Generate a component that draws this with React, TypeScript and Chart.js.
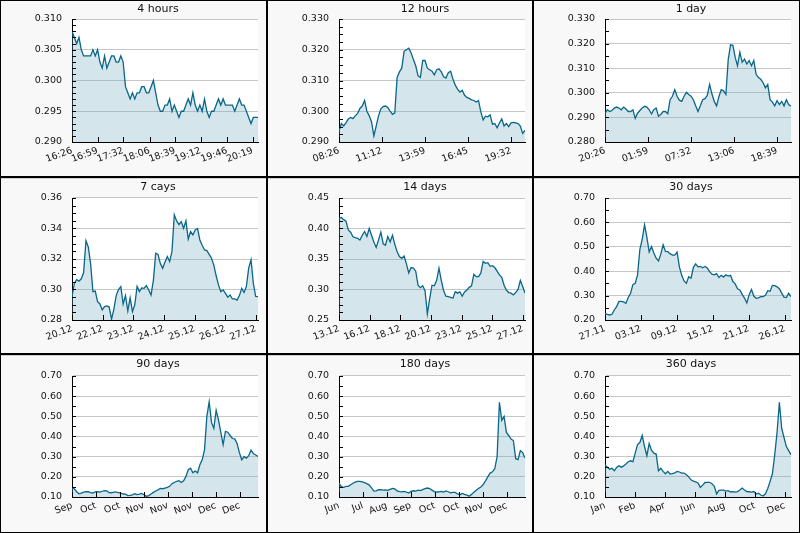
import React, { useEffect, useRef } from "react";
import { Chart, registerables } from "chart.js";
Chart.register(...registerables);

const FONT = "'DejaVu Sans', Verdana, sans-serif";
const LINE = "#0a6788";
const FILL = "rgba(115,168,192,0.3)";

// ---------- 4 hours ----------
const h4Labels = ["16:26", "16:59", "17:32", "18:06", "18:39", "19:12", "19:46", "20:19"];
const h4Ticks = [0, 33, 66, 100, 133, 166, 200, 233];
const h4Values = [
  0.308, 0.307, 0.306, 0.307, 0.305, 0.304, 0.304, 0.304, 0.304, 0.305,
  0.304, 0.305, 0.303, 0.302, 0.304, 0.302, 0.303, 0.304, 0.304, 0.303,
  0.303, 0.304, 0.303, 0.299, 0.298, 0.297, 0.298, 0.297, 0.298, 0.298,
  0.299, 0.299, 0.298, 0.298, 0.299, 0.300, 0.298, 0.296, 0.295, 0.295,
  0.296, 0.296, 0.297, 0.295, 0.296, 0.295, 0.294, 0.295, 0.295, 0.296,
  0.297, 0.296, 0.298, 0.296, 0.295, 0.296, 0.295, 0.297, 0.295, 0.294,
  0.295, 0.295, 0.296, 0.297, 0.296, 0.297, 0.296, 0.296, 0.296, 0.296,
  0.295, 0.296, 0.297, 0.296, 0.296, 0.295, 0.294, 0.293, 0.294, 0.294,
  0.294,
];

// ---------- 12 hours ----------
const h12Labels = ["08:26", "11:12", "13:59", "16:45", "19:32"];
const h12Ticks = [0, 166, 333, 499, 666];
const h12Values = [
  0.2935, 0.2960, 0.2952, 0.2962, 0.2975, 0.2980, 0.2976, 0.2985, 0.2993, 0.3009,
  0.3017, 0.3035, 0.3000, 0.2985, 0.2965, 0.2920, 0.2952, 0.2985, 0.3008, 0.3015,
  0.3017, 0.3012, 0.3000, 0.2990, 0.2995, 0.3110, 0.3128, 0.3140, 0.3195, 0.3200,
  0.3205, 0.3190, 0.3168, 0.3148, 0.3115, 0.3110, 0.3165, 0.3165, 0.3140, 0.3135,
  0.3130, 0.3118, 0.3135, 0.3138, 0.3128, 0.3112, 0.3108, 0.3125, 0.3130, 0.3105,
  0.3085, 0.3072, 0.3062, 0.3068, 0.3052, 0.3045, 0.3042, 0.3037, 0.3035, 0.3030,
  0.3035, 0.2998, 0.2972, 0.2984, 0.2982, 0.2988, 0.2958, 0.2960, 0.2946, 0.2962,
  0.2975, 0.2952, 0.2960, 0.2950, 0.2962, 0.2964, 0.2962, 0.2960, 0.2952, 0.2928,
  0.2938,
];

// ---------- 1 day ----------
const d1Labels = ["20:26", "01:59", "07:32", "13:06", "18:39"];
const d1Ticks = [0, 333, 666, 1000, 1333];
const d1Values = [
  0.2915, 0.2931, 0.2924, 0.2928, 0.2938, 0.2942, 0.2938, 0.2931, 0.2942, 0.2934,
  0.2924, 0.2924, 0.2931, 0.2896, 0.2917, 0.2928, 0.2938, 0.2945, 0.2942, 0.2931,
  0.2914, 0.2931, 0.2938, 0.2905, 0.2912, 0.2924, 0.2924, 0.2915, 0.2972, 0.2986,
  0.3013, 0.2986, 0.2970, 0.2965, 0.2986, 0.3002, 0.2993, 0.2986, 0.2972, 0.2947,
  0.2924, 0.2947, 0.2972, 0.2976, 0.2990, 0.3034, 0.2995, 0.2965, 0.2947, 0.2985,
  0.3013, 0.3008, 0.2993, 0.3135, 0.3195, 0.3193, 0.3144, 0.3110, 0.3165, 0.3124,
  0.3137, 0.3117, 0.3131, 0.3110, 0.3131, 0.3075, 0.3062, 0.3055, 0.3041, 0.3020,
  0.3034, 0.2972, 0.2962, 0.2947, 0.2968, 0.2952, 0.2965, 0.2947, 0.2972, 0.2952,
  0.2945,
];

// ---------- 7 days ----------
const d7Labels = ["20.12", "22.12", "23.12", "24.12", "25.12", "26.12", "27.12"];
const d7Ticks = [0, 28, 56, 84, 112, 140, 168];
const d7Values = [
  0.2953, 0.3040, 0.3065, 0.3055, 0.3070, 0.3111, 0.3320, 0.3280, 0.3170, 0.2986,
  0.2990, 0.2920, 0.2905, 0.2866, 0.2888, 0.2892, 0.2885, 0.2805, 0.2870, 0.2960,
  0.3000, 0.3019, 0.2905, 0.2960, 0.2860, 0.2945, 0.2855, 0.2900, 0.3020, 0.2986,
  0.3010, 0.3008, 0.3025, 0.2997, 0.2964, 0.3060, 0.3238, 0.3230, 0.3170, 0.3139,
  0.3180, 0.3216, 0.3183, 0.3250, 0.3490, 0.3450, 0.3425, 0.3445, 0.3400, 0.3450,
  0.3330, 0.3380, 0.3358, 0.3391, 0.3400, 0.3325, 0.3290, 0.3259, 0.3255, 0.3230,
  0.3205, 0.3160, 0.3090, 0.3030, 0.2986, 0.2997, 0.2975, 0.2950, 0.2964, 0.2938,
  0.2938, 0.2930, 0.2960, 0.3008, 0.2980, 0.3020, 0.3140, 0.3195, 0.3040, 0.2955,
  0.2953,
];

// ---------- 14 days ----------
const d14Labels = ["13.12", "16.12", "18.12", "20.12", "23.12", "25.12", "27.12"];
const d14Ticks = [0, 56, 112, 168, 224, 280, 336];
const d14Values = [
  0.4170, 0.4180, 0.4145, 0.4120, 0.3975, 0.3940, 0.3865, 0.3850, 0.3840, 0.3810,
  0.3890, 0.3950, 0.3870, 0.4000, 0.3890, 0.3780, 0.3690, 0.3810, 0.3940, 0.3750,
  0.3725, 0.3870, 0.3780, 0.3890, 0.3740, 0.3620, 0.3540, 0.3510, 0.3550, 0.3420,
  0.3270, 0.3360, 0.3350, 0.3300, 0.3070, 0.3030, 0.3060, 0.2980, 0.2600, 0.2850,
  0.3070, 0.3060, 0.3150, 0.3350, 0.3150, 0.2980, 0.2890, 0.2883, 0.2870, 0.2856,
  0.2965, 0.2940, 0.2960, 0.2890, 0.2960, 0.2990, 0.3035, 0.3060, 0.3250, 0.3210,
  0.3210, 0.3267, 0.3460, 0.3430, 0.3440, 0.3380, 0.3390, 0.3360, 0.3300, 0.3240,
  0.3200, 0.3070, 0.2990, 0.2950, 0.2940, 0.2910, 0.2950, 0.3000, 0.3150, 0.3050,
  0.2940,
];

// ---------- 30 days ----------
const d30Labels = ["27.11", "03.12", "09.12", "15.12", "21.12", "26.12"];
const d30Ticks = [0, 5.8, 11.6, 17.4, 23.2, 29.0];
const d30Values = [
  0.2274, 0.2233, 0.2205, 0.2233, 0.2410, 0.2548, 0.2760, 0.2760, 0.2740, 0.2680,
  0.2920, 0.3096, 0.3450, 0.3507, 0.3849, 0.4900, 0.5300, 0.5900, 0.5400, 0.4790,
  0.5014, 0.4750, 0.4530, 0.4420, 0.4700, 0.5082, 0.4810, 0.4800, 0.4720, 0.4660,
  0.4660, 0.4781, 0.4180, 0.3830, 0.3600, 0.3500, 0.3770, 0.3712, 0.4150, 0.4300,
  0.4180, 0.4200, 0.4140, 0.4192, 0.4130, 0.3980, 0.3880, 0.3849, 0.3900, 0.3740,
  0.3830, 0.3760, 0.3849, 0.3800, 0.3830, 0.3575, 0.3480, 0.3280, 0.3233, 0.3050,
  0.2900, 0.2700, 0.3040, 0.3250, 0.2980, 0.2890, 0.2910, 0.2959, 0.2959, 0.3010,
  0.3200, 0.3180, 0.3420, 0.3411, 0.3360, 0.3280, 0.3100, 0.2940, 0.2918, 0.3096,
  0.2959,
];

// ---------- 90 days ----------
const d90Labels = ["Sep", "Oct", "Oct", "Nov", "Nov", "Nov", "Dec", "Dec"];
const d90Ticks = [0, 11.6, 23.2, 34.8, 46.4, 58.0, 69.6, 81.2];
const d90Values = [
  0.1445, 0.1410, 0.1260, 0.1160, 0.1190, 0.1240, 0.1270, 0.1260, 0.1220, 0.1198,
  0.1250, 0.1270, 0.1240, 0.1285, 0.1320, 0.1300, 0.1215, 0.1210, 0.1240, 0.1240,
  0.1220, 0.1190, 0.1148, 0.1140, 0.1066, 0.1082, 0.1110, 0.1160, 0.1120, 0.1140,
  0.1180, 0.1115, 0.1030, 0.1070, 0.1150, 0.1230, 0.1300, 0.1355, 0.1430, 0.1410,
  0.1445, 0.1478, 0.1530, 0.1660, 0.1720, 0.1780, 0.1810, 0.1720, 0.1800, 0.2021,
  0.2351, 0.2433, 0.2200, 0.2290, 0.2200, 0.2598, 0.2850, 0.3339, 0.5000, 0.5720,
  0.4700, 0.4400, 0.5300, 0.4822, 0.4200, 0.3600, 0.4250, 0.4213, 0.4050, 0.3900,
  0.3880, 0.3650, 0.3200, 0.2845, 0.3000, 0.2928, 0.3050, 0.3320, 0.3150, 0.3080,
  0.3010,
];

// ---------- 180 days ----------
const d180Labels = ["Jun", "Jul", "Aug", "Sep", "Oct", "Oct", "Nov", "Dec"];
const d180Ticks = [0, 23.2, 46.4, 69.6, 92.8, 116.0, 139.2, 162.4];
const d180Values = [
  0.1692, 0.1510, 0.1478, 0.1527, 0.1527, 0.1610, 0.1680, 0.1735, 0.1770, 0.1774,
  0.1755, 0.1710, 0.1665, 0.1590, 0.1450, 0.1290, 0.1300, 0.1360, 0.1362, 0.1340,
  0.1350, 0.1330, 0.1380, 0.1430, 0.1400, 0.1300, 0.1270, 0.1250, 0.1275, 0.1247,
  0.1198, 0.1280, 0.1310, 0.1290, 0.1340, 0.1320, 0.1370, 0.1420, 0.1445, 0.1420,
  0.1340, 0.1265, 0.1247, 0.1250, 0.1275, 0.1247, 0.1300, 0.1260, 0.1205, 0.1225,
  0.1230, 0.1150, 0.1115, 0.1180, 0.1130, 0.1090, 0.1040, 0.1130, 0.1230, 0.1330,
  0.1420, 0.1490, 0.1620, 0.1800, 0.2000, 0.2186, 0.2250, 0.2400, 0.3000, 0.5700,
  0.4800, 0.5000, 0.4200, 0.4050, 0.3870, 0.3800, 0.2900, 0.2850, 0.3300, 0.3200,
  0.2928,
];

// ---------- 360 days ----------
const d360Labels = ["Jan", "Feb", "Apr", "Jun", "Aug", "Oct", "Dec"];
const d360Ticks = [0, 58, 116, 174, 232, 290, 348];
const d360Values = [
  0.2598, 0.2470, 0.2380, 0.2420, 0.2300, 0.2466, 0.2550, 0.2480, 0.2540, 0.2640,
  0.2750, 0.2796, 0.2750, 0.3175, 0.3600, 0.3700, 0.4050, 0.3504, 0.3050, 0.3650,
  0.3320, 0.3175, 0.3130, 0.2300, 0.2420, 0.2269, 0.2150, 0.2269, 0.2140, 0.2160,
  0.2190, 0.2269, 0.2240, 0.2186, 0.2186, 0.2104, 0.2000, 0.1850, 0.1790, 0.1750,
  0.1700, 0.1478, 0.1590, 0.1720, 0.1730, 0.1730, 0.1660, 0.1527, 0.1150, 0.1330,
  0.1340, 0.1340, 0.1290, 0.1313, 0.1250, 0.1270, 0.1247, 0.1270, 0.1350, 0.1445,
  0.1350, 0.1270, 0.1260, 0.1240, 0.1270, 0.1148, 0.1190, 0.1100, 0.1050, 0.1160,
  0.1420, 0.1774, 0.2150, 0.3092, 0.4200, 0.5700, 0.4400, 0.3950, 0.3500, 0.3300,
  0.3092,
];

type Spec = {
  title: string;
  values: number[];
  xMax: number;
  xTicks: number[];
  xLabels: string[];
  yMin: number;
  yMax: number;
  yStep: number;
  yMinor: number;
  dec: number;
};

const specs: Spec[] = [
  { title: "4 hours", values: h4Values, xMax: 240, xTicks: h4Ticks, xLabels: h4Labels, yMin: 0.29, yMax: 0.31, yStep: 0.005, yMinor: 0.001, dec: 3 },
  { title: "12 hours", values: h12Values, xMax: 720, xTicks: h12Ticks, xLabels: h12Labels, yMin: 0.29, yMax: 0.33, yStep: 0.01, yMinor: 0.0025, dec: 3 },
  { title: "1 day", values: d1Values, xMax: 1440, xTicks: d1Ticks, xLabels: d1Labels, yMin: 0.28, yMax: 0.33, yStep: 0.01, yMinor: 0.005, dec: 3 },
  { title: "7 cays", values: d7Values, xMax: 170, xTicks: d7Ticks, xLabels: d7Labels, yMin: 0.28, yMax: 0.36, yStep: 0.02, yMinor: 0.005, dec: 2 },
  { title: "14 days", values: d14Values, xMax: 340, xTicks: d14Ticks, xLabels: d14Labels, yMin: 0.25, yMax: 0.45, yStep: 0.05, yMinor: 0.0125, dec: 2 },
  { title: "30 days", values: d30Values, xMax: 30, xTicks: d30Ticks, xLabels: d30Labels, yMin: 0.2, yMax: 0.7, yStep: 0.1, yMinor: 0.05, dec: 2 },
  { title: "90 days", values: d90Values, xMax: 90, xTicks: d90Ticks, xLabels: d90Labels, yMin: 0.1, yMax: 0.7, yStep: 0.1, yMinor: 0.05, dec: 2 },
  { title: "180 days", values: d180Values, xMax: 180, xTicks: d180Ticks, xLabels: d180Labels, yMin: 0.1, yMax: 0.7, yStep: 0.1, yMinor: 0.05, dec: 2 },
  { title: "360 days", values: d360Values, xMax: 360, xTicks: d360Ticks, xLabels: d360Labels, yMin: 0.1, yMax: 0.7, yStep: 0.1, yMinor: 0.05, dec: 2 },
];

const CW = 266;
const CH = 176;
const PLOT_BOTTOM = 142;
const AXIS_X = 72;
const PLOT_RIGHT = 258;

function Panel({ spec, left, top, padTop }: { spec: Spec; left: number; top: number; padTop: number }) {
  const ref = useRef<HTMLCanvasElement>(null);
  useEffect(() => {
    const canvas = ref.current;
    if (!canvas) return;
    const n = spec.values.length;
    const points = spec.values.map((v, i) => ({ x: (i * spec.xMax) / (n - 1), y: v }));
    const majorCount = Math.round((spec.yMax - spec.yMin) / spec.yStep);
    const minorCount = Math.round((spec.yMax - spec.yMin) / spec.yMinor);

    const decor = {
      id: "decor",
      beforeDraw(chart: any) {
        const { ctx, chartArea: a } = chart;
        ctx.save();
        ctx.fillStyle = "#ffffff";
        ctx.fillRect(a.left, a.top, a.right - a.left, a.bottom - a.top);
        ctx.restore();
      },
      afterDraw(chart: any) {
        const { ctx, chartArea: a, scales } = chart;
        ctx.save();
        ctx.strokeStyle = "#000";
        ctx.lineWidth = 1;
        ctx.beginPath();
        for (let k = 0; k <= minorCount; k++) {
          const py = Math.round(scales.y.getPixelForValue(spec.yMin + k * spec.yMinor)) + 0.5;
          ctx.moveTo(a.left, py);
          ctx.lineTo(a.left + 4, py);
        }
        for (const t of spec.xTicks) {
          const px = Math.round(scales.x.getPixelForValue(t)) + 0.5;
          ctx.moveTo(px, a.bottom);
          ctx.lineTo(px, a.bottom - 5);
        }
        ctx.stroke();
        ctx.fillStyle = "#111";
        ctx.font = `11px ${FONT}`;
        ctx.textAlign = "center";
        ctx.textBaseline = "middle";
        ctx.fillText(spec.title, 158, 9);
        ctx.restore();
      },
    };

    const chart = new Chart(canvas, {
      type: "line",
      data: {
        datasets: [
          {
            data: points,
            borderColor: LINE,
            backgroundColor: FILL,
            borderWidth: 1.3,
            pointRadius: 0,
            tension: 0,
            fill: "start",
          },
        ],
      },
      options: {
        responsive: false,
        animation: false,
        devicePixelRatio: 1,
        layout: { padding: { top: padTop, right: CW - PLOT_RIGHT, left: 0, bottom: 0 } },
        plugins: { legend: { display: false }, tooltip: { enabled: false }, title: { display: false } },
        scales: {
          x: {
            type: "linear",
            min: 0,
            max: spec.xMax,
            bounds: "data",
            afterBuildTicks: (scale: any) => {
              scale.ticks = spec.xTicks.map((v) => ({ value: v }));
            },
            afterFit: (scale: any) => {
              scale.height = CH - PLOT_BOTTOM;
            },
            grid: { display: false, drawTicks: false },
            border: { display: true, color: "#000", width: 1 },
            ticks: {
              autoSkip: false,
              minRotation: 20,
              maxRotation: 20,
              padding: 3,
              color: "#111",
              font: { family: FONT, size: 9.5 },
              callback: (_v: any, i: number) => spec.xLabels[i],
            },
          },
          y: {
            min: spec.yMin,
            max: spec.yMax,
            afterBuildTicks: (scale: any) => {
              const t = [];
              for (let k = 0; k <= majorCount; k++) t.push({ value: spec.yMin + k * spec.yStep });
              scale.ticks = t;
            },
            afterFit: (scale: any) => {
              scale.width = AXIS_X;
            },
            grid: { color: "#c6c6c6", drawTicks: false, lineWidth: 1 },
            border: { display: true, color: "#000", width: 1 },
            ticks: {
              padding: 10,
              color: "#111",
              font: { family: FONT, size: 9.5 },
              callback: (v: any) => Number(v).toFixed(spec.dec),
            },
          },
        },
      } as any,
      plugins: [decor as any],
    });
    return () => chart.destroy();
  }, [spec, padTop]);

  return (
    <canvas
      ref={ref}
      width={CW}
      height={CH}
      style={{ position: "absolute", left, top, width: CW, height: CH, display: "block" }}
    />
  );
}

const colLeft = [0, 267, 533];
const rowTop = [0, 178, 355];
const rowPad = [19, 20, 21];

export default function App() {
  useEffect(() => {
    document.body.style.margin = "0";
  }, []);
  const line = (l: number, t: number, w: number, h: number, c = "#000") => (
    <div style={{ position: "absolute", left: l, top: t, width: w, height: h, background: c }} />
  );
  return (
    <div style={{ position: "absolute", left: 0, top: 0, width: 800, height: 533, background: "#f8f8f8", overflow: "hidden" }}>
      {specs.map((s, i) => (
        <Panel key={i} spec={s} left={colLeft[i % 3]} top={rowTop[Math.floor(i / 3)]} padTop={rowPad[Math.floor(i / 3)]} />
      ))}
      {line(0, 178, 800, 1, "#cfcfcf")}
      {line(0, 355, 800, 1, "#cfcfcf")}
      {line(0, 0, 800, 1)}
      {line(0, 532, 800, 1)}
      {line(0, 0, 1, 533)}
      {line(799, 0, 1, 533)}
      {line(266, 0, 2, 533)}
      {line(532, 0, 2, 533)}
      {line(0, 176, 800, 2)}
      {line(0, 353, 800, 2)}
    </div>
  );
}
